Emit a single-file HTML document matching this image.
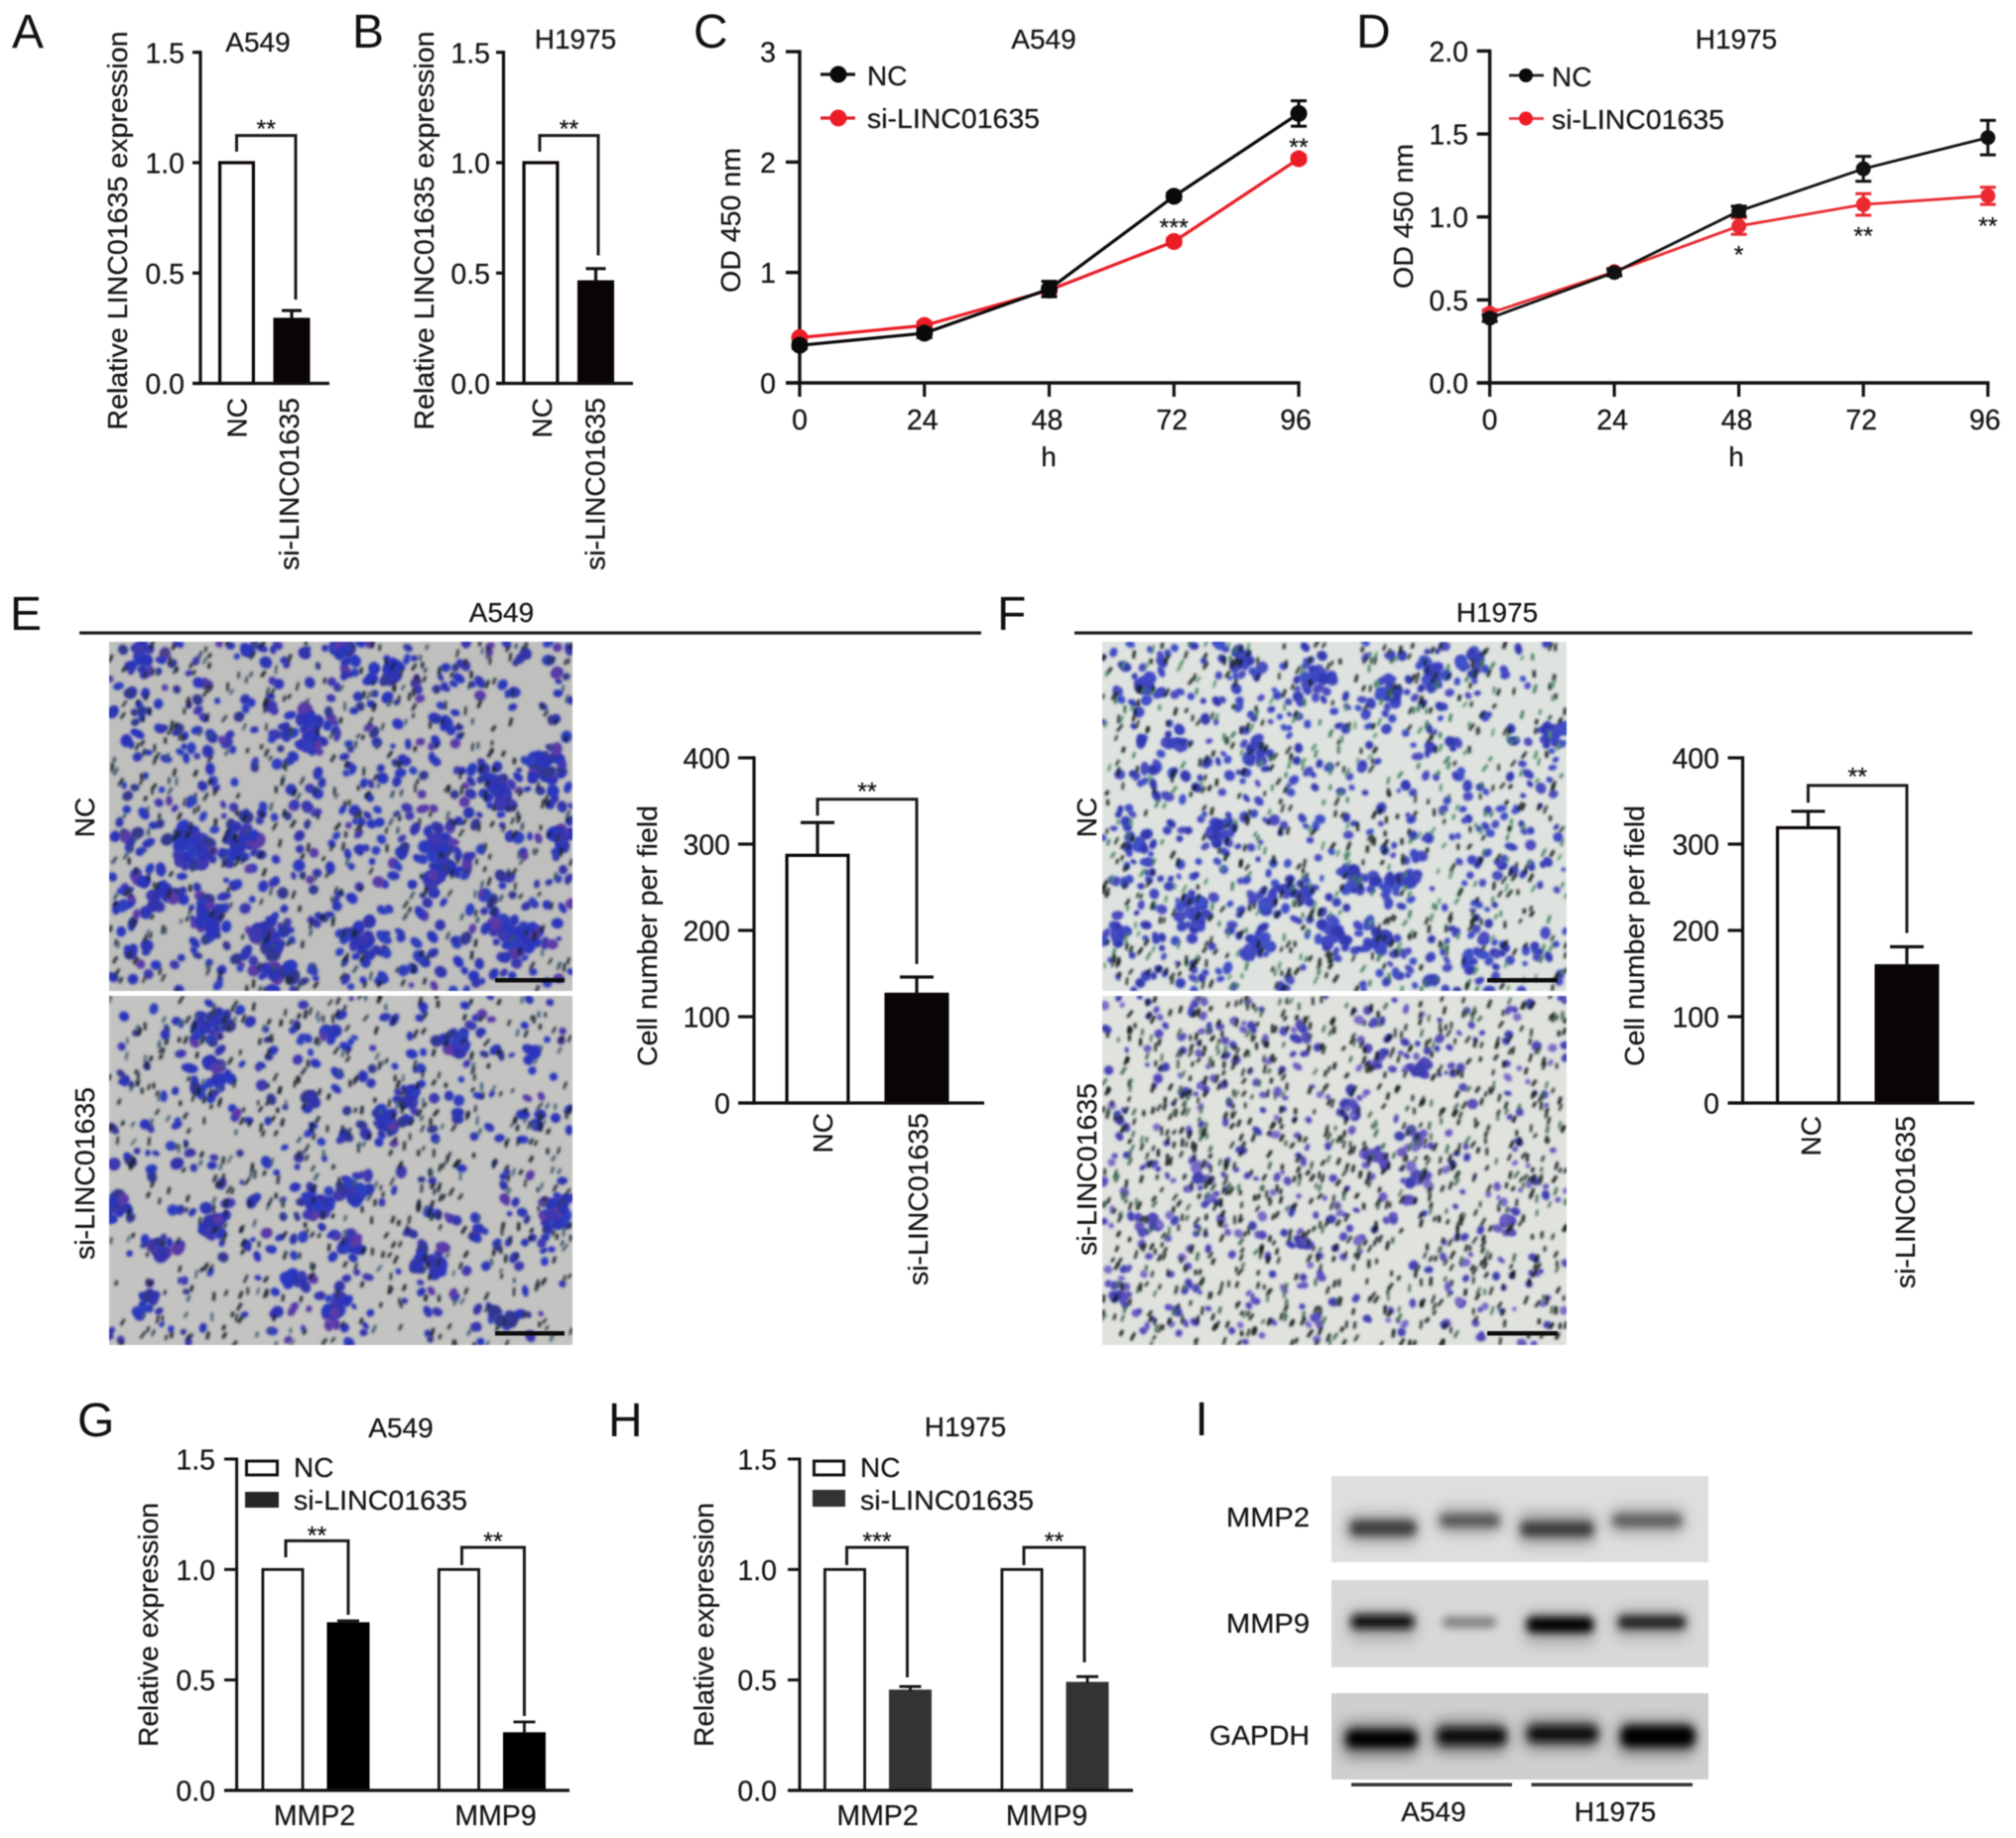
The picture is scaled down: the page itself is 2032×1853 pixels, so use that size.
<!DOCTYPE html>
<html lang="en">
<head>
<meta charset="utf-8">
<title>LINC01635 knockdown figure</title>
<style>
html,body{margin:0;padding:0;background:#fff;}
#figure{position:relative;width:2032px;height:1853px;overflow:hidden;background:#fff;filter:blur(0.6px);}
canvas{position:absolute;display:block;}
svg#chart{position:absolute;left:0;top:0;}
svg text{font-family:"Liberation Sans",sans-serif;fill:#151515;stroke:#151515;stroke-width:0.25px;font-size:28px;}
svg text.letter{font-size:48px;fill:#111;stroke:none;}
</style>
</head>
<body>
<div id="figure">
<canvas id="m-e-nc" width="467" height="352" style="left:110px;top:647px"></canvas>
<canvas id="m-e-si" width="467" height="352" style="left:110px;top:1004px"></canvas>
<canvas id="m-f-nc" width="468" height="352" style="left:1111px;top:647px"></canvas>
<canvas id="m-f-si" width="468" height="352" style="left:1111px;top:1004px"></canvas>
<svg id="chart" width="2032" height="1853" viewBox="0 0 2032 1853" xmlns="http://www.w3.org/2000/svg">
<defs>
<filter id="bandBlur" x="-30%" y="-120%" width="160%" height="340%"><feGaussianBlur stdDeviation="4.2"/></filter>
<filter id="haloBlur" x="-30%" y="-150%" width="160%" height="400%"><feGaussianBlur stdDeviation="7"/></filter>
</defs>

<g id="panel-a">
<text class="letter" x="12" y="48">A</text>
<text x="260" y="52" text-anchor="middle">A549</text>
<text transform="translate(128,232.5) rotate(-90)" text-anchor="middle" textLength="402" lengthAdjust="spacingAndGlyphs">Relative LINC01635 expression</text>
</g>
<g id="panel-b">
<text class="letter" x="355" y="48">B</text>
<text x="580" y="49" text-anchor="middle">H1975</text>
<text transform="translate(437,232.5) rotate(-90)" text-anchor="middle" textLength="402" lengthAdjust="spacingAndGlyphs">Relative LINC01635 expression</text>
</g>
<g id="panel-c">
<text class="letter" x="699" y="48">C</text>
<text x="1052" y="49" text-anchor="middle">A549</text>
<text transform="translate(746,222) rotate(-90)" text-anchor="middle" textLength="146" lengthAdjust="spacingAndGlyphs">OD 450 nm</text>
<text x="1057" y="470" text-anchor="middle">h</text>
<line x1="827" y1="75" x2="862" y2="75" stroke="#111" stroke-width="3.2"/>
<circle cx="845" cy="75" r="8.5" fill="#0a0a0a"/>
<text x="874" y="86">NC</text>
<line x1="827" y1="119" x2="862" y2="119" stroke="#e0202a" stroke-width="3.2"/>
<circle cx="845" cy="119" r="8.5" fill="#ee1c25"/>
<text x="874" y="129" textLength="174" lengthAdjust="spacingAndGlyphs">si-LINC01635</text>
</g>
<g id="panel-d">
<text class="letter" x="1367" y="48">D</text>
<text x="1750" y="49" text-anchor="middle">H1975</text>
<text transform="translate(1424,218) rotate(-90)" text-anchor="middle" textLength="146" lengthAdjust="spacingAndGlyphs">OD 450 nm</text>
<text x="1750" y="470" text-anchor="middle">h</text>
<line x1="1521" y1="76" x2="1556" y2="76" stroke="#222" stroke-width="2.8"/>
<circle cx="1538" cy="76" r="7" fill="#0a0a0a"/>
<text x="1564" y="87">NC</text>
<line x1="1521" y1="119.500" x2="1556" y2="119.500" stroke="#e43a40" stroke-width="2.800"/>
<circle cx="1538" cy="119.500" r="7" fill="#ee1c25"/>
<text x="1564" y="130" textLength="174" lengthAdjust="spacingAndGlyphs">si-LINC01635</text>
</g>

<g id="panel-e">
<text class="letter" x="10" y="635">E</text>
<text x="505.500" y="627" text-anchor="middle">A549</text>
<rect x="80" y="636.500" width="909" height="3.200" fill="#1c1c1c"/>
<text transform="translate(95,824) rotate(-90)" text-anchor="middle">NC</text>
<text transform="translate(95,1183) rotate(-90)" text-anchor="middle" textLength="174" lengthAdjust="spacingAndGlyphs">si-LINC01635</text>
<rect x="499" y="986" width="70" height="4.500" fill="#0c0c0c"/>
<rect x="499" y="1342" width="70" height="4.500" fill="#0c0c0c"/>
<text transform="translate(662,943.500) rotate(-90)" text-anchor="middle" textLength="263" lengthAdjust="spacingAndGlyphs">Cell number per field</text>
</g>
<g id="panel-f">
<text class="letter" x="1005" y="635">F</text>
<text x="1509" y="627" text-anchor="middle">H1975</text>
<rect x="1083" y="636.500" width="905" height="3.200" fill="#1c1c1c"/>
<text transform="translate(1105,824) rotate(-90)" text-anchor="middle">NC</text>
<text transform="translate(1105,1179) rotate(-90)" text-anchor="middle" textLength="174" lengthAdjust="spacingAndGlyphs">si-LINC01635</text>
<rect x="1499" y="986" width="71" height="4.500" fill="#0c0c0c"/>
<rect x="1499" y="1342" width="71" height="4.500" fill="#0c0c0c"/>
<text transform="translate(1657,943.500) rotate(-90)" text-anchor="middle" textLength="263" lengthAdjust="spacingAndGlyphs">Cell number per field</text>
</g>

<g id="panel-g">
<text class="letter" x="78" y="1448">G</text>
<text x="404" y="1449" text-anchor="middle">A549</text>
<text transform="translate(159,1638) rotate(-90)" text-anchor="middle" textLength="246" lengthAdjust="spacingAndGlyphs">Relative expression</text>
<rect x="248.500" y="1473" width="31" height="14" fill="#fff" stroke="#111" stroke-width="3"/>
<text x="296" y="1489">NC</text>
<rect x="247" y="1504" width="34" height="16" fill="#262626"/>
<text x="296" y="1522" textLength="175" lengthAdjust="spacingAndGlyphs">si-LINC01635</text>
</g>
<g id="panel-h">
<text class="letter" x="613" y="1448">H</text>
<text x="973" y="1448" text-anchor="middle">H1975</text>
<text transform="translate(719,1638) rotate(-90)" text-anchor="middle" textLength="246" lengthAdjust="spacingAndGlyphs">Relative expression</text>
<rect x="820.500" y="1473" width="30" height="14" fill="#fff" stroke="#111" stroke-width="3"/>
<text x="867" y="1489">NC</text>
<rect x="819" y="1502" width="33" height="17" fill="#333"/>
<text x="867" y="1522" textLength="175" lengthAdjust="spacingAndGlyphs">si-LINC01635</text>
</g>

<g>
<text class="letter" x="1204.500" y="1447">I</text>
<text x="1320" y="1539" text-anchor="end" textLength="84" lengthAdjust="spacingAndGlyphs">MMP2</text>
<text x="1320" y="1646" text-anchor="end" textLength="84" lengthAdjust="spacingAndGlyphs">MMP9</text>
<text x="1320" y="1759" text-anchor="end" textLength="101" lengthAdjust="spacingAndGlyphs">GAPDH</text>
<clipPath id="c1"><rect x="1342" y="1488" width="380" height="87"/></clipPath>
<clipPath id="c2"><rect x="1342" y="1593" width="380" height="88"/></clipPath>
<clipPath id="c3"><rect x="1342" y="1707" width="380" height="87"/></clipPath>
<g clip-path="url(#c1)">
<rect x="1342" y="1488" width="380" height="87" fill="#dedede"/>
<g filter="url(#haloBlur)" fill="#a4a4a4">
<rect x="1356" y="1526" width="74" height="30" rx="10"/><rect x="1448" y="1520" width="66" height="26" rx="10"/><rect x="1529" y="1524" width="80" height="34" rx="10"/><rect x="1622" y="1520" width="76" height="26" rx="10"/>
</g>
<g filter="url(#bandBlur)">
<rect x="1361" y="1533" width="66" height="15" rx="6" fill="#3c3c3c"/>
<rect x="1452" y="1527" width="59" height="12" rx="5" fill="#565656"/>
<rect x="1533" y="1534" width="73" height="15" rx="6" fill="#3c3c3c"/>
<rect x="1626" y="1527" width="69" height="12" rx="5" fill="#5e5e5e"/>
</g>
</g>
<g clip-path="url(#c2)">
<rect x="1342" y="1593" width="380" height="88" fill="#d8d8d8"/>
<g filter="url(#haloBlur)" fill="#acacac">
<rect x="1358" y="1622" width="70" height="32" rx="10"/><rect x="1536" y="1624" width="72" height="34" rx="10"/><rect x="1627" y="1622" width="74" height="30" rx="10"/>
</g>
<g filter="url(#bandBlur)">
<rect x="1362" y="1628" width="63" height="14" rx="5" fill="#0c0c0c"/>
<rect x="1454" y="1630" width="54" height="11" rx="4" fill="#7e7e7e"/>
<rect x="1539" y="1630" width="67" height="16" rx="6" fill="#050505"/>
<rect x="1631" y="1629" width="68" height="13" rx="5" fill="#1a1a1a"/>
</g>
</g>
<g clip-path="url(#c3)">
<rect x="1342" y="1707" width="380" height="87" fill="#cfcfcf"/>
<g filter="url(#haloBlur)" fill="#808080">
<rect x="1352" y="1736" width="78" height="36" rx="10"/><rect x="1444" y="1734" width="76" height="34" rx="10"/><rect x="1535" y="1732" width="78" height="32" rx="10"/><rect x="1630" y="1734" width="80" height="36" rx="10"/>
</g>
<g filter="url(#bandBlur)">
<rect x="1357" y="1744" width="71" height="18" rx="7" fill="#050505"/>
<rect x="1449" y="1742" width="69" height="17" rx="7" fill="#0a0a0a"/>
<rect x="1540" y="1740" width="70" height="16" rx="7" fill="#0a0a0a"/>
<rect x="1634" y="1740" width="74" height="21" rx="8" fill="#000"/>
</g>
</g>
<rect x="1362" y="1797.500" width="162" height="3.500" fill="#333"/>
<rect x="1543.500" y="1797.500" width="162.500" height="3.500" fill="#333"/>
<text x="1445" y="1836" text-anchor="middle">A549</text>
<text x="1628" y="1836" text-anchor="middle">H1975</text>
</g>
</svg>
</div>

<script>
/* ---------- Panel A ---------- */
const panelACategories = ['NC', 'si-LINC01635'];
const panelAValues = [1.0, 0.29];
const panelAErrors = [0, 0.04];
const panelATicks = ['0.0', '0.5', '1.0', '1.5'];
const panelASignificance = ['**', 1.123, 1.05, 0.38, 1.18];
/* ---------- Panel B ---------- */
const panelBCategories = ['NC', 'si-LINC01635'];
const panelBValues = [1.0, 0.46];
const panelBErrors = [0, 0.06];
const panelBTicks = ['0.0', '0.5', '1.0', '1.5'];
const panelBSignificance = ['**', 1.123, 1.05, 0.58, 1.18];
/* ---------- Panel C ---------- */
const panelCHours = [0, 24, 48, 72, 96];
const panelCNc = [0.34, 0.45, 0.85, 1.69, 2.44];
const panelCNcErr = [0.03, 0.04, 0.07, 0.03, 0.115];
const panelCSi = [0.41, 0.52, 0.84, 1.28, 2.03];
const panelCSiErr = [0.02, 0.03, 0.03, 0.03, 0.03];
const panelCYTicks = ['0', '1', '2', '3'];
const panelCStars = ['', '', '', '***', '**'];
const panelCStarLevels = [0, 0, 0, 1.46, 2.19];
/* ---------- Panel D ---------- */
const panelDHours = [0, 24, 48, 72, 96];
const panelDNc = [0.39, 0.665, 1.035, 1.29, 1.478];
const panelDNcErr = [0.02, 0.02, 0.03, 0.075, 0.104];
const panelDSi = [0.42, 0.67, 0.945, 1.075, 1.127];
const panelDSiErr = [0.02, 0.02, 0.05, 0.065, 0.052];
const panelDYTicks = ['0.0', '0.5', '1.0', '1.5', '2.0'];
const panelDStars = ['', '', '*', '**', '**'];
const panelDStarLevels = [0, 0, 0.806, 0.92, 0.98];
/* ---------- Panel E ---------- */
const panelECategories = ['NC', 'si-LINC01635'];
const panelEValues = [287, 126];
const panelEErrors = [38, 20];
const panelETicks = ['0', '100', '200', '300', '400'];
const panelESignificance = ['**', 352, 333, 161, 368];
/* ---------- Panel F ---------- */
const panelFCategories = ['NC', 'si-LINC01635'];
const panelFValues = [319, 159];
const panelFErrors = [19, 22];
const panelFTicks = ['0', '100', '200', '300', '400'];
const panelFSignificance = ['**', 368, 348, 197, 385];
/* ---------- Panel G ---------- */
const panelGGenes = ['MMP2', 'MMP9'];
const panelGNc = [1.0, 1.0];
const panelGSi = [0.755, 0.257];
const panelGSiErr = [0.013, 0.053];
const panelGTicks = ['0.0', '0.5', '1.0', '1.5'];
const panelGSigLabels = ['**', '**'];
const panelGSigTop = [1.13, 1.10];
const panelGSigLeft = [1.055, 1.02];
const panelGSigRight = [0.795, 0.337];
const panelGSigStar = [1.18, 1.155];
/* ---------- Panel H ---------- */
const panelHGenes = ['MMP2', 'MMP9'];
const panelHNc = [1.0, 1.0];
const panelHSi = [0.45, 0.485];
const panelHSiErr = [0.02, 0.03];
const panelHTicks = ['0.0', '0.5', '1.0', '1.5'];
const panelHSigLabels = ['***', '**'];
const panelHSigTop = [1.10, 1.10];
const panelHSigLeft = [1.02, 1.02];
const panelHSigRight = [0.512, 0.58];
const panelHSigStar = [1.155, 1.155];

const SVGNS = 'http://www.w3.org/2000/svg';
const TICK_SIZE = 28.5;
function mk(tag, attrs, parent) {
  const n = document.createElementNS(SVGNS, tag);
  for (const k in attrs) n.setAttribute(k, attrs[k]);
  parent.appendChild(n);
  return n;
}
function seg(parent, x1, y1, x2, y2, color, w) {
  return mk('line', {x1: x1, y1: y1, x2: x2, y2: y2, stroke: color, 'stroke-width': w, 'stroke-linecap': 'butt'}, parent);
}
function txt(parent, str, x, y, anchor, size) {
  const t = mk('text', {x: x, y: y, 'text-anchor': anchor, style: 'font-size:' + size + 'px'}, parent);
  t.textContent = str;
  return t;
}
function axisY(y0, pxPerUnit) {
  return function (v) { return y0 - v * pxPerUnit; };
}
function drawYAxis(parent, yFn, labels, axisX, tickLeft, labelRight, w) {
  const top = yFn(parseFloat(labels[labels.length - 1]));
  const bottom = yFn(parseFloat(labels[0]));
  const spine = seg(parent, axisX, top - w / 2, axisX, bottom + w / 2, '#111', w);
  
  
  labels.forEach(function (lab) {
    const y = yFn(parseFloat(lab));
    const tick = seg(parent, tickLeft, y, axisX, y, '#111', w);
    
    
    const t = txt(parent, lab, labelRight, y + 10.5, 'end', TICK_SIZE);
    
    
  });
}
function drawBar(parent, cx, width, yFn, value, fill, color, sw) {
  const top = yFn(value), base = yFn(0);
  const r = mk('rect', {x: cx - width / 2 + sw / 2, y: top, width: width - sw, height: base - top, fill: fill, stroke: color, 'stroke-width': sw}, parent);
  return r;
}
function drawErrorUp(parent, cx, yFn, value, err, cap, sw) {
  if (!err) return;
  const g = mk('g', {}, parent);
  
  
  seg(g, cx, yFn(value), cx, yFn(value + err), '#111', sw);
  seg(g, cx - cap / 2, yFn(value + err), cx + cap / 2, yFn(value + err), '#111', sw);
}
function drawBracket(parent, xL, xR, yFn, top, left, right, label, starLevel, size) {
  const p = mk('polyline', {points: [xL, yFn(left), xL, yFn(top), xR, yFn(top), xR, yFn(right)].join(' '), fill: 'none', stroke: '#1a1a1a', 'stroke-width': 3}, parent);
  
  
  const t = txt(parent, label, (xL + xR) / 2, yFn(starLevel) + size * 0.58, 'middle', size);
  
  
}
function drawCategoryLabel(parent, str, cx, top, size) {
  const t = mk('text', {transform: 'translate(' + (cx + size * 0.36) + ',' + top + ') rotate(-90)', 'text-anchor': 'end', style: 'font-size:' + size + 'px'}, parent);
  t.textContent = str;
  if (str.length > 4) {
    t.setAttribute('textLength', '174');
    t.setAttribute('lengthAdjust', 'spacingAndGlyphs');
  }
  
  
}

/* Two-bar chart: frame holds layout only */
function twoBar(parent, frame, cats, vals, errs, ticks, sig) {
  const yFn = axisY(frame.y0, frame.k);
  const xFn = function (i) { return frame.x0 + i * frame.step; };
  cats.forEach(function (c, i) {
    const b = drawBar(parent, xFn(i), frame.bw, yFn, vals[i], i === 0 ? '#fff' : '#0a0406', '#0a0406', 3.2);
    
    
    drawErrorUp(parent, xFn(i), yFn, vals[i], errs[i], frame.cap, 3.2);
    drawCategoryLabel(parent, c, xFn(i) + frame.labelDx[i], frame.labelTop, 28);
  });
  drawYAxis(parent, yFn, ticks, frame.axisX, frame.tickLeft, frame.labelRight, 3.2);
  const xa = seg(parent, frame.tickLeft, frame.y0, frame.xEnd, frame.y0, '#111', 3.2);
  
  
  drawBracket(parent, xFn(0) + frame.brL, xFn(1) + frame.brR, yFn, sig[1], sig[2], sig[3], sig[0], sig[4], 25);
}

twoBar(document.getElementById('panel-a'),
  {x0: 238.5, step: 55.5, bw: 37, y0: 386.5, k: 222.5, cap: 20, axisX: 202, tickLeft: 194, labelRight: 186, xEnd: 332, labelDx: [0, -3], labelTop: 401, brL: 0, brR: 4},
  panelACategories, panelAValues, panelAErrors, panelATicks, panelASignificance);
twoBar(document.getElementById('panel-b'),
  {x0: 545, step: 55.5, bw: 37, y0: 386.5, k: 222.5, cap: 20, axisX: 507.5, tickLeft: 500, labelRight: 494, xEnd: 638, labelDx: [1, -1], labelTop: 401, brL: -1, brR: 2.5},
  panelBCategories, panelBValues, panelBErrors, panelBTicks, panelBSignificance);
twoBar(document.getElementById('panel-e'),
  {x0: 824, step: 100, bw: 65, y0: 1112, k: 0.87, cap: 34, axisX: 760, tickLeft: 744, labelRight: 736, xEnd: 992, labelDx: [5, 1], labelTop: 1122, brL: 0, brR: 0},
  panelECategories, panelEValues, panelEErrors, panelETicks, panelESignificance);
twoBar(document.getElementById('panel-f'),
  {x0: 1822.5, step: 99.5, bw: 65, y0: 1112, k: 0.87, cap: 34, axisX: 1756.5, tickLeft: 1741.5, labelRight: 1733, xEnd: 1990, labelDx: [2.5, -2], labelTop: 1125, brL: 0, brR: 0},
  panelFCategories, panelFValues, panelFErrors, panelFTicks, panelFSignificance);

/* Grouped bar chart */
function groupedBar(parent, frame, genes, nc, si, siErr, ticks, sigLabels, sigTop, sigLeft, sigRight, sigStar) {
  const yFn = axisY(frame.y0, frame.k);
  const gx = function (i) { return frame.g0 + i * frame.gStep; };
  genes.forEach(function (g, i) {
    const a = drawBar(parent, gx(i) - frame.off, frame.bw, yFn, nc[i], '#fff', '#111', 2.8);
    
    
    const b = drawBar(parent, gx(i) + frame.off, frame.bw, yFn, si[i], frame.siFill, frame.siFill, 2.8);
    
    
    drawErrorUp(parent, gx(i) + frame.off, yFn, si[i], siErr[i], 22, 2.8);
    const t = txt(parent, g, gx(i) + frame.labelDx[i], 1840, 'middle', 28.5);
    
    
    drawBracket(parent, gx(i) - frame.off + frame.brL, gx(i) + frame.off + frame.brR, yFn, sigTop[i], sigLeft[i], sigRight[i], sigLabels[i], sigStar[i], 25);
  });
  drawYAxis(parent, yFn, ticks, frame.axisX, frame.tickLeft, frame.labelRight, 3);
  const xa = seg(parent, frame.tickLeft, frame.y0, frame.xEnd, frame.y0, '#111', 3.2);
  
  
}
groupedBar(document.getElementById('panel-g'),
  {g0: 318, gStep: 177.5, off: 33, bw: 43, y0: 1805, k: 222.7, siFill: '#000', axisX: 238.6, tickLeft: 226, labelRight: 217, xEnd: 574, labelDx: [-1, 4], brL: 3, brR: 0},
  panelGGenes, panelGNc, panelGSi, panelGSiErr, panelGTicks, panelGSigLabels, panelGSigTop, panelGSigLeft, panelGSigRight, panelGSigStar);
groupedBar(document.getElementById('panel-h'),
  {g0: 884.5, gStep: 178.5, off: 33, bw: 43, y0: 1805, k: 222.7, siFill: '#333', axisX: 806, tickLeft: 794, labelRight: 783, xEnd: 1142, labelDx: [0, -8], brL: 2, brR: -3},
  panelHGenes, panelHNc, panelHSi, panelHSiErr, panelHTicks, panelHSigLabels, panelHSigTop, panelHSigLeft, panelHSigRight, panelHSigStar);

/* Line chart */
function drawSeries(parent, name, xFn, yFn, hours, vals, errs, color, lineW, r) {
  const g = mk('g', {}, parent);
  
  
  const pts = hours.map(function (h, i) { return xFn(h) + ',' + yFn(vals[i]); }).join(' ');
  const line = mk('polyline', {points: pts, fill: 'none', stroke: color, 'stroke-width': lineW}, g);
  
  
  hours.forEach(function (h, i) {
    const x = xFn(h);
    const e = mk('path', {d: 'M' + (x - 8) + ' ' + yFn(vals[i] + errs[i]) + 'H' + (x + 8) + 'M' + x + ' ' + yFn(vals[i] + errs[i]) + 'V' + yFn(vals[i] - errs[i]) + 'M' + (x - 8) + ' ' + yFn(vals[i] - errs[i]) + 'H' + (x + 8), fill: 'none', stroke: color, 'stroke-width': 3}, g);
    
    
    const c = mk('circle', {cx: x, cy: yFn(vals[i]), r: r, fill: color}, g);
    
    
  });
}
function lineChart(parent, frame, hours, nc, ncErr, si, siErr, yTicks, stars, starLevels) {
  const yFn = axisY(frame.y0, frame.k);
  const xFn = function (h) { return frame.x0 + h * frame.pxPerHour; };
  drawYAxis(parent, yFn, yTicks, frame.x0, frame.tickLeft, frame.labelRight, 3.4);
  const xa = seg(parent, frame.tickLeft, frame.y0, xFn(96) + 1.6, frame.y0, '#111', 3.4);
  
  
  hours.forEach(function (h, i) {
    const tick = seg(parent, xFn(h), frame.y0, xFn(h), frame.y0 + 14, '#111', 3.2);
    
    
    const t = txt(parent, String(h), xFn(h) + (i === 4 ? -3 : (i === 0 ? 0 : -2)), frame.y0 + 47, 'middle', TICK_SIZE);
    
    
    if (stars[i]) {
      const s = txt(parent, stars[i], xFn(h), yFn(starLevels[i]) + 14.5, 'middle', 25);
      
      
    }
  });
  drawSeries(parent, 'si-linc01635', xFn, yFn, hours, si, siErr, frame.red, frame.lw, frame.r);
  drawSeries(parent, 'nc', xFn, yFn, hours, nc, ncErr, frame.black, frame.lw, frame.r);
}
lineChart(document.getElementById('panel-c'),
  {x0: 806, pxPerHour: 5.24, y0: 386, k: 111.3, tickLeft: 792, labelRight: 782, red: '#ea1c26', black: '#0a0a0a', lw: 3.2, r: 8.5},
  panelCHours, panelCNc, panelCNcErr, panelCSi, panelCSiErr, panelCYTicks, panelCStars, panelCStarLevels);
lineChart(document.getElementById('panel-d'),
  {x0: 1501.6, pxPerHour: 5.23, y0: 386, k: 167.3, tickLeft: 1488.6, labelRight: 1480, red: '#ea2a30', black: '#111', lw: 2.8, r: 7.5},
  panelDHours, panelDNc, panelDNcErr, panelDSi, panelDSiErr, panelDYTicks, panelDStars, panelDStarLevels);

/* Micrograph textures (decorative stained-cell images, not chart data) */
function drawMicrograph(id, opt) {
  const c = document.getElementById(id);
  const ctx = c.getContext('2d');
  const W = c.width, H = c.height;
  let seed = opt.seed;
  function rnd() {
    seed = (seed * 1664525 + 1013904223) >>> 0;
    return ((seed >>> 8) & 0xffff) / 65536;
  }
  function gauss() { return (rnd() + rnd() + rnd() - 1.5) / 0.75; }
  function pick(a) { return a[Math.floor(rnd() * a.length) % a.length]; }
  ctx.fillStyle = opt.bg;
  ctx.fillRect(0, 0, W, H);
  try { ctx.filter = 'blur(1px)'; } catch (e) {}
  function blob(x, y, r) {
    ctx.fillStyle = pick(opt.blue);
    ctx.beginPath();
    ctx.ellipse(x, y, r * (0.8 + rnd() * 0.5), r * (0.7 + rnd() * 0.4), rnd() * 3.14, 0, 6.283);
    ctx.fill();
  }
  for (let i = 0; i < opt.nBlob; i++) blob(rnd() * W, rnd() * H, opt.rMin + rnd() * (opt.rMax - opt.rMin));
  opt.clusters.forEach(function (cl) {
    const cx = cl[0] * W, cy = cl[1] * H, s = cl[2];
    for (let j = 0; j < cl[3]; j++) blob(cx + gauss() * s, cy + gauss() * s, opt.rMax * (0.7 + rnd() * 0.5));
  });
  for (let i = 0; i < opt.nDash; i++) {
    const x = rnd() * W, y = rnd() * H, len = 5 + rnd() * 4, a = -1.25 + (rnd() - 0.5) * 0.7;
    ctx.strokeStyle = pick(opt.dash);
    ctx.lineWidth = 2.2 + rnd() * 1.1;
    ctx.beginPath();
    ctx.moveTo(x - Math.cos(a) * len / 2, y - Math.sin(a) * len / 2);
    ctx.lineTo(x + Math.cos(a) * len / 2, y + Math.sin(a) * len / 2);
    ctx.stroke();
  }
  ctx.filter = 'none';
}
const inkE = ['#2d35b4', '#2a38c0', '#3334ac', '#2c36b8', '#3e38b0', '#5a3aa8', '#2e3fbe', '#2b34bc', '#33388f'];
const inkF = ['#3a42bc', '#4048c4', '#3339b0', '#4a4cc0', '#3f50c8'];
const inkFSi = ['#4f4ab8', '#5a50bc', '#4442b4', '#6a5cc0', '#3d40b0', '#7a6cc8'];
drawMicrograph('m-e-nc', {seed: 11, bg: '#bfbfbd', blue: inkE, dash: ['#1c2330', '#27303e', '#15202a', '#39506a'], nBlob: 620, rMin: 3.2, rMax: 6.2, nDash: 460,
  clusters: [[.43,.26,16,30],[.18,.59,16,30],[.28,.58,14,22],[.72,.65,15,28],[.95,.36,14,28],[.85,.42,14,28],[.22,.78,16,28],[.33,.84,14,22],[.87,.85,16,32],[.98,.56,10,16],[.71,.57,12,16],[.36,.94,16,20],[.6,.1,12,14],[.08,.04,10,8],[.5,.02,10,12],[.1,.72,14,16],[.55,.85,14,20]]});
drawMicrograph('m-e-si', {seed: 29, bg: '#c3c3c1', blue: inkE, dash: ['#1c2330', '#27303e', '#15202a', '#446078'], nBlob: 340, rMin: 3, rMax: 5.8, nDash: 560,
  clusters: [[.22,.08,13,22],[.22,.24,14,22],[.76,.14,14,18],[.65,.29,12,14],[.6,.36,12,16],[.44,.3,7,6],[.47,.11,7,6],[.91,.16,6,6],[.45,.6,12,14],[.52,.55,12,14],[.97,.62,12,16],[.23,.65,12,16],[.11,.72,12,16],[.03,.6,10,14],[.41,.8,8,8],[.69,.76,14,16],[.48,.89,12,14],[.84,.92,10,10],[.52,.71,12,14],[.08,.89,10,10]]});
drawMicrograph('m-f-nc', {seed: 47, bg: '#dfe3df', blue: inkF, dash: ['#142018', '#1d2c28', '#0f1a1a', '#3d7a5e', '#55916e'], nBlob: 520, rMin: 2.8, rMax: 5.4, nDash: 700,
  clusters: [[.08,.13,14,16],[.31,.05,12,16],[.45,.11,14,16],[.62,.14,16,18],[.72,.1,14,16],[.79,.06,10,12],[.97,.26,10,16],[.15,.28,10,10],[.33,.31,10,10],[.1,.39,12,10],[.25,.56,14,16],[.07,.59,12,12],[.55,.67,12,16],[.64,.69,12,16],[.19,.77,16,24],[.37,.74,14,16],[.42,.71,12,12],[.5,.83,12,16],[.6,.84,14,16],[.83,.89,12,12],[.03,.83,10,12],[.34,.86,14,16]]});
drawMicrograph('m-f-si', {seed: 83, bg: '#e0e2de', blue: inkFSi, dash: ['#101818', '#17201e', '#0c1412', '#406a52', '#202c28'], nBlob: 400, rMin: 2.6, rMax: 5, nDash: 980,
  clusters: [[.58,.16,12,10],[.68,.2,12,10],[.53,.33,10,8],[.66,.42,12,10],[.58,.46,10,10],[.11,.65,12,12],[.69,.52,10,8],[.2,.5,10,8],[.44,.72,10,8],[.04,.86,10,10],[.42,.1,10,6],[.87,.65,12,8]]});
</script>
</body>
</html>
